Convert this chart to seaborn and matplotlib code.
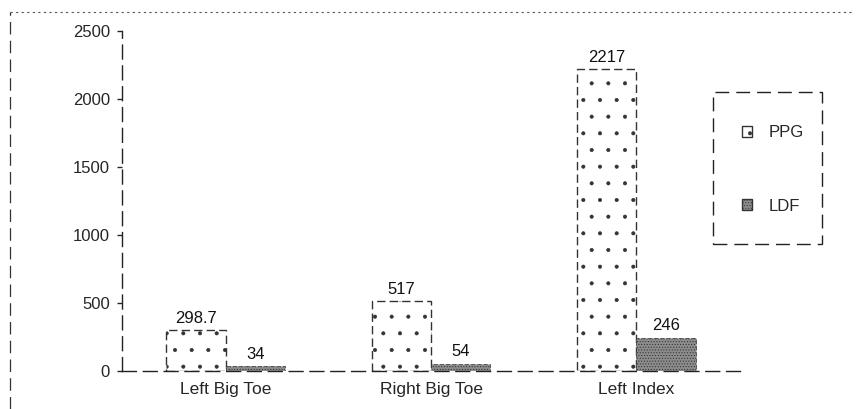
import matplotlib
matplotlib.use("Agg")
import matplotlib.pyplot as plt
import seaborn as sns
import pandas as pd
from matplotlib.patches import Rectangle, Patch
from matplotlib.lines import Line2D

categories = ["Left Big Toe", "Right Big Toe", "Left Index"]
ppg = [298.7, 517, 2217]
ldf = [34, 54, 246]
ppg_labels = ["298.7", "517", "2217"]
ldf_labels = ["34", "54", "246"]
yticks = [0, 500, 1000, 1500, 2000, 2500]

df = pd.DataFrame({
    "cat": categories * 2,
    "val": ppg + ldf,
    "series": ["PPG"] * 3 + ["LDF"] * 3,
})

sns.set_style("white")
plt.rcParams["font.family"] = ["Liberation Sans", "DejaVu Sans"]
plt.rcParams["hatch.linewidth"] = 0.45

fig = plt.figure(figsize=(8.65, 4.09), dpi=100)
ax = fig.add_axes([122 / 865, 1 - 371 / 409, (740 - 122) / 865, (371 - 31) / 409])

sns.barplot(data=df, x="cat", y="val", hue="series", order=categories,
            hue_order=["PPG", "LDF"], width=0.58, ax=ax, legend=False,
            palette={"PPG": "white", "LDF": "#b8b8b8"}, saturation=1)

styles = {"PPG": dict(fc="white", hatch=".", ec="#333333"),
          "LDF": dict(fc="#8c8c8c", hatch="......", ec="#333333")}
for cont, name, labs in zip(ax.containers, ["PPG", "LDF"], [ppg_labels, ldf_labels]):
    for bar in cont:
        bar.set_facecolor(styles[name]["fc"])
        bar.set_hatch(styles[name]["hatch"])
        bar.set_edgecolor(styles[name]["ec"])
        bar.set_linestyle((0, (6, 3)))
        bar.set_linewidth(1.0 if name == "PPG" else 0.5)
    ax.bar_label(cont, labels=labs, padding=3, fontsize=12, color="#111111")

ax.set_xlim(-0.507, 2.507)
ax.set_ylim(0, 2500)
ax.set_yticks(yticks)
ax.set_yticklabels([str(t) for t in yticks], fontsize=12)
ax.tick_params(axis="x", length=0, labelsize=12.5, pad=8)
ax.tick_params(axis="y", length=3.6, width=1, direction="out", left=True, pad=5)
ax.set_xlabel("")
ax.set_ylabel("")
for s in ["top", "right"]:
    ax.spines[s].set_visible(False)
for s in ["left", "bottom"]:
    ax.spines[s].set_linestyle((0, (10, 5)))
    ax.spines[s].set_linewidth(1.0)
    ax.spines[s].set_color("#222222")

# legend (frameless, with a dashed box drawn around it)
handles = [Patch(facecolor="white", edgecolor="#333333", hatch=".", label="PPG"),
           Patch(facecolor="#8c8c8c", edgecolor="#333333", hatch="......", label="LDF")]
leg = fig.legend(handles=handles, loc="center", bbox_to_anchor=(773 / 865, 1 - 169.5 / 409),
                 frameon=False, fontsize=12, labelspacing=3.5, handlelength=0.6,
                 handleheight=0.6, borderpad=0, handletextpad=1.0, borderaxespad=0)
fig.patches.append(Rectangle((713 / 865, 1 - 244 / 409), 109 / 865, 152 / 409,
                             transform=fig.transFigure, fill=False, ec="#222222",
                             lw=1.0, ls=(0, (10, 5))))

# outer frame of the scanned page: dotted top, dashed left
fig.lines.append(Line2D([10 / 865, 852 / 865], [1 - 12 / 409] * 2, transform=fig.transFigure,
                        color="#555555", lw=0.8, ls=(0, (2, 3))))
fig.lines.append(Line2D([10 / 865] * 2, [0, 1 - 12 / 409], transform=fig.transFigure,
                        color="#333333", lw=0.9, ls=(0, (10, 5))))

fig.savefig("out.png", dpi=100)
